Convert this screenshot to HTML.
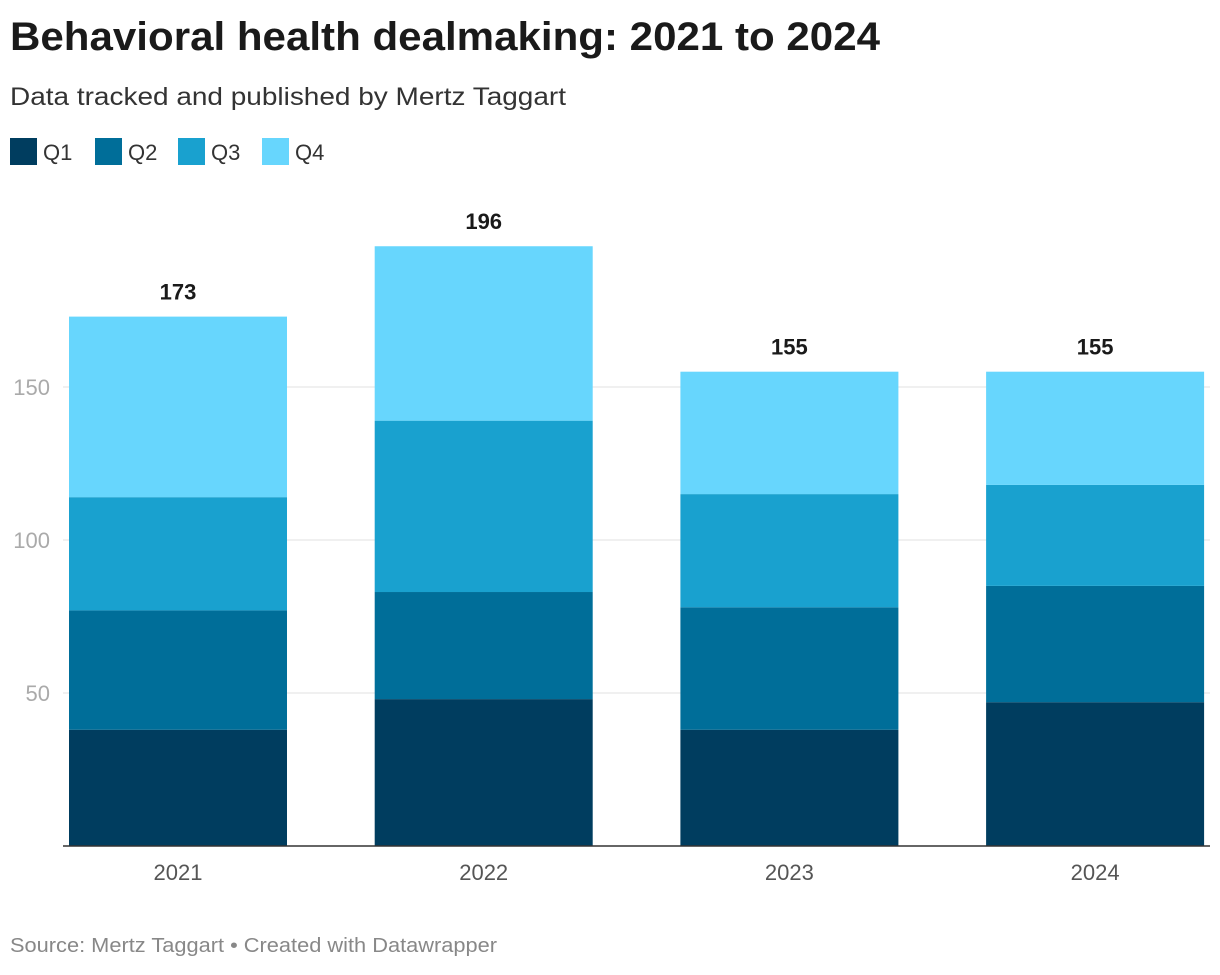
<!DOCTYPE html>
<html><head><meta charset="utf-8"><style>
body{margin:0;width:1220px;height:970px;background:#fff;font-family:"Liberation Sans",Arial,sans-serif;overflow:hidden}
</style></head><body>
<svg id="c" width="1220" height="970" xmlns="http://www.w3.org/2000/svg">
<text x="10" y="50" font-size="40" font-weight="bold" fill="#1a1a1a" textLength="870" lengthAdjust="spacingAndGlyphs">Behavioral health dealmaking: 2021 to 2024</text>
<text x="10" y="105" font-size="25" fill="#333" textLength="556" lengthAdjust="spacingAndGlyphs">Data tracked and published by Mertz Taggart</text>
<g id="legend"></g>
<g id="grid"></g><g id="bars"></g>
<text x="10" y="952" font-size="20" fill="#888" textLength="487" lengthAdjust="spacingAndGlyphs">Source: Mertz Taggart • Created with Datawrapper</text>
</svg>
<script>
const categories=["2021","2022","2023","2024"];
const seriesNames=["Q1","Q2","Q3","Q4"];
const q1=[38,48,38,47];
const q2=[39,35,40,38];
const q3=[37,56,37,33];
const q4=[59,57,40,37];
const totals=[173,196,155,155];
const yTicks=[50,100,150];
const colors=["#003d5f","#006e99","#19a1cf","#67d6fd"];
const NS="http://www.w3.org/2000/svg";
const y=v=>846-v*3.06;
const x=i=>69+i*305.7;
const bw=218;
function mk(t,a,p){const e=document.createElementNS(NS,t);for(const k in a)e.setAttribute(k,a[k]);p.appendChild(e);return e;}
const lg=document.getElementById('legend');
const lx=[10,95,178,262];
seriesNames.forEach((n,i)=>{
 const r=mk('rect',{x:lx[i],y:138,width:27,height:27,fill:colors[i]},lg);
 
 
 const t=mk('text',{x:lx[i]+33,y:160,'font-size':22,fill:'#333'},lg);t.textContent=n;
 
 
});
const g=document.getElementById('grid');
yTicks.forEach(v=>{
 const l=mk('line',{x1:63,x2:1210,y1:y(v),y2:y(v),stroke:'#e2e2e2','stroke-width':1},g);
 
 
 const t=mk('text',{x:50,y:y(v)+8,'font-size':22,fill:'#aaa','text-anchor':'end'},g);t.textContent=v;
 
 
});
const b=document.getElementById('bars');
const series=[q1,q2,q3,q4];
categories.forEach((c,i)=>{
 let acc=0;
 series.forEach((s,k)=>{
  const r=mk('rect',{x:x(i),y:y(acc+s[i]),width:bw,height:s[i]*3.06,fill:colors[k]},b);
  
  
  acc+=s[i];
 });
 const t=mk('text',{x:x(i)+bw/2,y:y(totals[i])-17,'font-size':22,'font-weight':'bold',fill:'#1a1a1a','text-anchor':'middle'},b);t.textContent=totals[i];
 
 
 const xl=mk('text',{x:x(i)+bw/2,y:880,'font-size':22,fill:'#555','text-anchor':'middle'},b);xl.textContent=c;
 
 
});
const ax=mk('line',{x1:63,x2:1210,y1:846,y2:846,stroke:'#333','stroke-width':1.5},b);


</script>
</body></html>
